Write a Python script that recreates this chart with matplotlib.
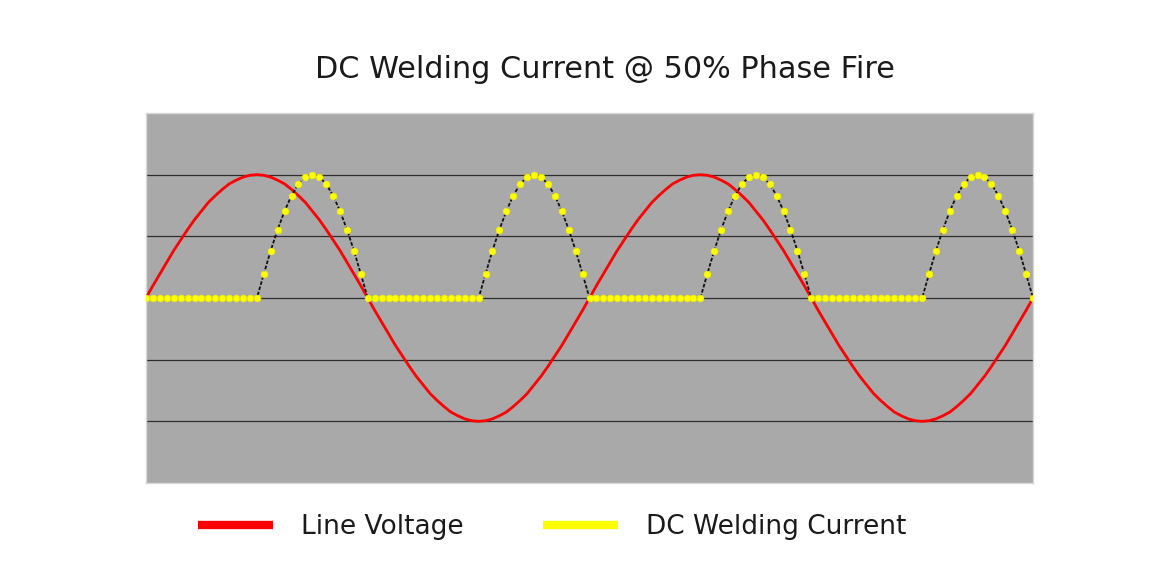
import matplotlib
matplotlib.use("Agg")
import matplotlib.pyplot as plt
from matplotlib.lines import Line2D
import numpy as np

title = "DC Welding Current @ 50% Phase Fire"
series_names = ["Line Voltage", "DC Welding Current"]

# 129 samples over two mains cycles (16 samples per quarter cycle)
line_voltage = [
    0.00, 0.20, 0.39, 0.58, 0.77, 0.94, 1.11, 1.27, 1.41, 1.55, 1.66, 1.76, 1.85, 1.91, 1.96, 1.99,
    2.00, 1.99, 1.96, 1.91, 1.85, 1.76, 1.66, 1.55, 1.41, 1.27, 1.11, 0.94, 0.77, 0.58, 0.39, 0.20,
    0.00, -0.20, -0.39, -0.58, -0.77, -0.94, -1.11, -1.27, -1.41, -1.55, -1.66, -1.76, -1.85, -1.91, -1.96, -1.99,
    -2.00, -1.99, -1.96, -1.91, -1.85, -1.76, -1.66, -1.55, -1.41, -1.27, -1.11, -0.94, -0.77, -0.58, -0.39, -0.20,
    0.00, 0.20, 0.39, 0.58, 0.77, 0.94, 1.11, 1.27, 1.41, 1.55, 1.66, 1.76, 1.85, 1.91, 1.96, 1.99,
    2.00, 1.99, 1.96, 1.91, 1.85, 1.76, 1.66, 1.55, 1.41, 1.27, 1.11, 0.94, 0.77, 0.58, 0.39, 0.20,
    0.00, -0.20, -0.39, -0.58, -0.77, -0.94, -1.11, -1.27, -1.41, -1.55, -1.66, -1.76, -1.85, -1.91, -1.96, -1.99,
    -2.00, -1.99, -1.96, -1.91, -1.85, -1.76, -1.66, -1.55, -1.41, -1.27, -1.11, -0.94, -0.77, -0.58, -0.39, -0.20,
    0.00,
]

welding_current = [
    0, 0, 0, 0, 0, 0, 0, 0, 0, 0, 0, 0, 0, 0, 0, 0,
    0.00, 0.39, 0.77, 1.11, 1.41, 1.66, 1.85, 1.96, 2.00, 1.96, 1.85, 1.66, 1.41, 1.11, 0.77, 0.39,
    0, 0, 0, 0, 0, 0, 0, 0, 0, 0, 0, 0, 0, 0, 0, 0,
    0.00, 0.39, 0.77, 1.11, 1.41, 1.66, 1.85, 1.96, 2.00, 1.96, 1.85, 1.66, 1.41, 1.11, 0.77, 0.39,
    0, 0, 0, 0, 0, 0, 0, 0, 0, 0, 0, 0, 0, 0, 0, 0,
    0.00, 0.39, 0.77, 1.11, 1.41, 1.66, 1.85, 1.96, 2.00, 1.96, 1.85, 1.66, 1.41, 1.11, 0.77, 0.39,
    0, 0, 0, 0, 0, 0, 0, 0, 0, 0, 0, 0, 0, 0, 0, 0,
    0.00, 0.39, 0.77, 1.11, 1.41, 1.66, 1.85, 1.96, 2.00, 1.96, 1.85, 1.66, 1.41, 1.11, 0.77, 0.39,
    0.00,
]

gridlines = [-2, -1, 0, 1, 2]

x = np.arange(len(line_voltage))

fig = plt.figure(figsize=(11.71, 5.74), dpi=100)
fig.patch.set_facecolor("white")
ax = fig.add_axes([146 / 1171, 91 / 574, 887 / 1171, 370 / 574])
ax.set_facecolor("#a9a9a9")

for g in gridlines:
    ax.axhline(g, color="#2e2e2e", lw=0.9, zorder=1)

ax.plot(x, line_voltage, color="#ff0000", lw=2.0, zorder=3)
ax.plot(x, welding_current, color="#111111", lw=1.3, ls=(0, (2, 1)), zorder=4,
        marker="o", markersize=4.8, markerfacecolor="#ffff00", markeredgecolor="#f0f000",
        markeredgewidth=0.5)

ax.set_xlim(0, len(line_voltage) - 1)
ax.set_ylim(-3, 3)
ax.set_xticks([])
ax.set_yticks([])
for s in ax.spines.values():
    s.set_color("#d8d8d8")
    s.set_linewidth(1.0)

fig.text(605 / 1171, 1 - 70 / 574, title, ha="center", va="center",
         fontsize=21.8, color="#1a1a1a", family="DejaVu Sans")

handles = [Line2D([], [], color="#ff0000", lw=6, solid_capstyle="butt"),
           Line2D([], [], color="#ffff00", lw=6, solid_capstyle="butt")]
leg = fig.legend(handles, series_names, loc="center", bbox_to_anchor=(552 / 1171, 1 - 527 / 574),
                 ncol=2, frameon=False, fontsize=19, handlelength=2.85, handletextpad=1.06,
                 columnspacing=3.0, labelcolor="#1a1a1a")

fig.savefig("out.png", dpi=100, facecolor="white")
